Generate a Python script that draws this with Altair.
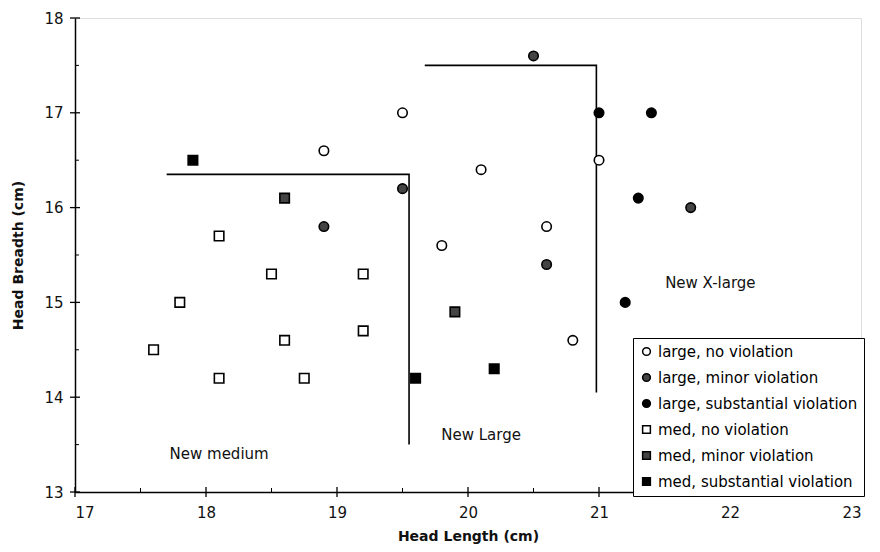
import altair as alt
import pandas as pd

FONT = "DejaVu Sans"

categories = ["large, no violation", "large, minor violation", "large, substantial violation",
              "med, no violation", "med, minor violation", "med, substantial violation"]
fills = ["white", "#444444", "black", "white", "#444444", "black"]
shapes = ["circle", "circle", "circle", "square", "square", "square"]

lnv_x = [18.9, 19.5, 20.1, 19.8, 20.6, 21.0, 20.8]
lnv_y = [16.6, 17.0, 16.4, 15.6, 15.8, 16.5, 14.6]
lmv_x = [20.5, 19.5, 18.9, 20.6, 21.7]
lmv_y = [17.6, 16.2, 15.8, 15.4, 16.0]
lsv_x = [21.0, 21.4, 21.3, 21.2]
lsv_y = [17.0, 17.0, 16.1, 15.0]
mnv_x = [17.6, 17.8, 18.1, 18.5, 19.2, 19.2, 18.6, 18.1, 18.75]
mnv_y = [14.5, 15.0, 15.7, 15.3, 15.3, 14.7, 14.6, 14.2, 14.2]
mmv_x = [18.6, 19.9]
mmv_y = [16.1, 14.9]
msv_x = [17.9, 19.6, 20.2]
msv_y = [16.5, 14.2, 14.3]

b1_x = [17.7, 19.55, 19.55]
b1_y = [16.35, 16.35, 13.5]
b2_x = [19.67, 20.98, 20.98]
b2_y = [17.5, 17.5, 14.05]

label_text = ["New medium", "New Large", "New X-large"]
label_x = [18.1, 20.1, 21.85]
label_y = [13.4, 13.6, 15.2]

x_ticks = [17, 18, 19, 20, 21, 22, 23]
y_ticks = [13, 14, 15, 16, 17, 18]
x_minor = [17.5, 18.5, 19.5, 20.5, 21.5, 22.5]
y_minor = [13.5, 14.5, 15.5, 16.5, 17.5]

rows = []
for cat, xs, ys in zip(categories, [lnv_x, lmv_x, lsv_x, mnv_x, mmv_x, msv_x],
                       [lnv_y, lmv_y, lsv_y, mnv_y, mmv_y, msv_y]):
    for a, b in zip(xs, ys):
        rows.append({"x": a, "y": b, "cat": cat})
pts = pd.DataFrame(rows)

lines = pd.DataFrame(
    [{"x": a, "y": b, "g": "b1", "o": i} for i, (a, b) in enumerate(zip(b1_x, b1_y))]
    + [{"x": a, "y": b, "g": "b2", "o": i} for i, (a, b) in enumerate(zip(b2_x, b2_y))]
)
labels = pd.DataFrame({"t": label_text, "x": label_x, "y": label_y})

xs = alt.Scale(domain=[17, 23], nice=False, zero=False)
ys = alt.Scale(domain=[13, 18], nice=False, zero=False)

xax = alt.Axis(values=x_ticks, format="d", ticks=False, grid=False, domainColor="black", domainWidth=1.5,
               labelFont=FONT, labelFontSize=15, labelColor="#111", labelPadding=13,
               title="Head Length (cm)", titleFont=FONT, titleFontSize=14, titleFontWeight="bold",
               titleColor="#111", titlePadding=9)
yax = alt.Axis(values=y_ticks, format="d", ticks=False, grid=False, domainColor="black", domainWidth=1.5,
               labelFont=FONT, labelFontSize=15, labelColor="#111", labelPadding=12,
               title="Head Breadth (cm)", titleFont=FONT, titleFontSize=14, titleFontWeight="bold",
               titleColor="#111", titleX=-57, titleY=237, titleAngle=270,
               titleAlign="center", titleBaseline="middle")

points = alt.Chart(pts).mark_point(filled=True, stroke="black", strokeWidth=1.6, size=90, opacity=1).encode(
    x=alt.X("x:Q", scale=xs, axis=xax),
    y=alt.Y("y:Q", scale=ys, axis=yax),
    fill=alt.Fill("cat:N", scale=alt.Scale(domain=categories, range=fills),
                  legend=alt.Legend(title=None, orient="none", legendX=558, legendY=320,
                                    strokeColor="black", fillColor="white", padding=6,
                                    labelFont=FONT, labelFontSize=15, labelColor="black",
                                    rowPadding=10, symbolSize=60, symbolStrokeColor="black",
                                    symbolStrokeWidth=1.5, labelLimit=400, labelOffset=4)),
    shape=alt.Shape("cat:N", scale=alt.Scale(domain=categories, range=shapes)),
)

bounds = alt.Chart(lines).mark_line(color="black", strokeWidth=1.6).encode(
    x=alt.X("x:Q", scale=xs), y=alt.Y("y:Q", scale=ys), detail="g:N", order="o:Q"
)

texts = alt.Chart(labels).mark_text(font=FONT, fontSize=15, color="#111").encode(
    x=alt.X("x:Q", scale=xs), y=alt.Y("y:Q", scale=ys), text="t:N"
)

xt = alt.Chart(pd.DataFrame({"v": x_ticks})).mark_rule(color="black", strokeWidth=1.3).encode(
    x=alt.X("v:Q", scale=xs), y=alt.value(469), y2=alt.value(479))
yt = alt.Chart(pd.DataFrame({"v": y_ticks})).mark_rule(color="black", strokeWidth=1.3).encode(
    y=alt.Y("v:Q", scale=ys), x=alt.value(-5), x2=alt.value(5))
xm = alt.Chart(pd.DataFrame({"v": x_minor})).mark_rule(color="black", strokeWidth=1).encode(
    x=alt.X("v:Q", scale=xs), y=alt.value(470), y2=alt.value(474))
ym = alt.Chart(pd.DataFrame({"v": y_minor})).mark_rule(color="black", strokeWidth=1).encode(
    y=alt.Y("v:Q", scale=ys), x=alt.value(0), x2=alt.value(4))

chart = alt.layer(bounds, xt, yt, xm, ym, texts, points).properties(
    width=786, height=474,
    autosize=alt.AutoSizeParams(type="none"),
    padding={"left": 67, "top": 10, "right": 11, "bottom": 56},
).configure_view(stroke=None).configure(background="white")

chart.save("out.html", embed_options={"renderer": "svg", "actions": False})
